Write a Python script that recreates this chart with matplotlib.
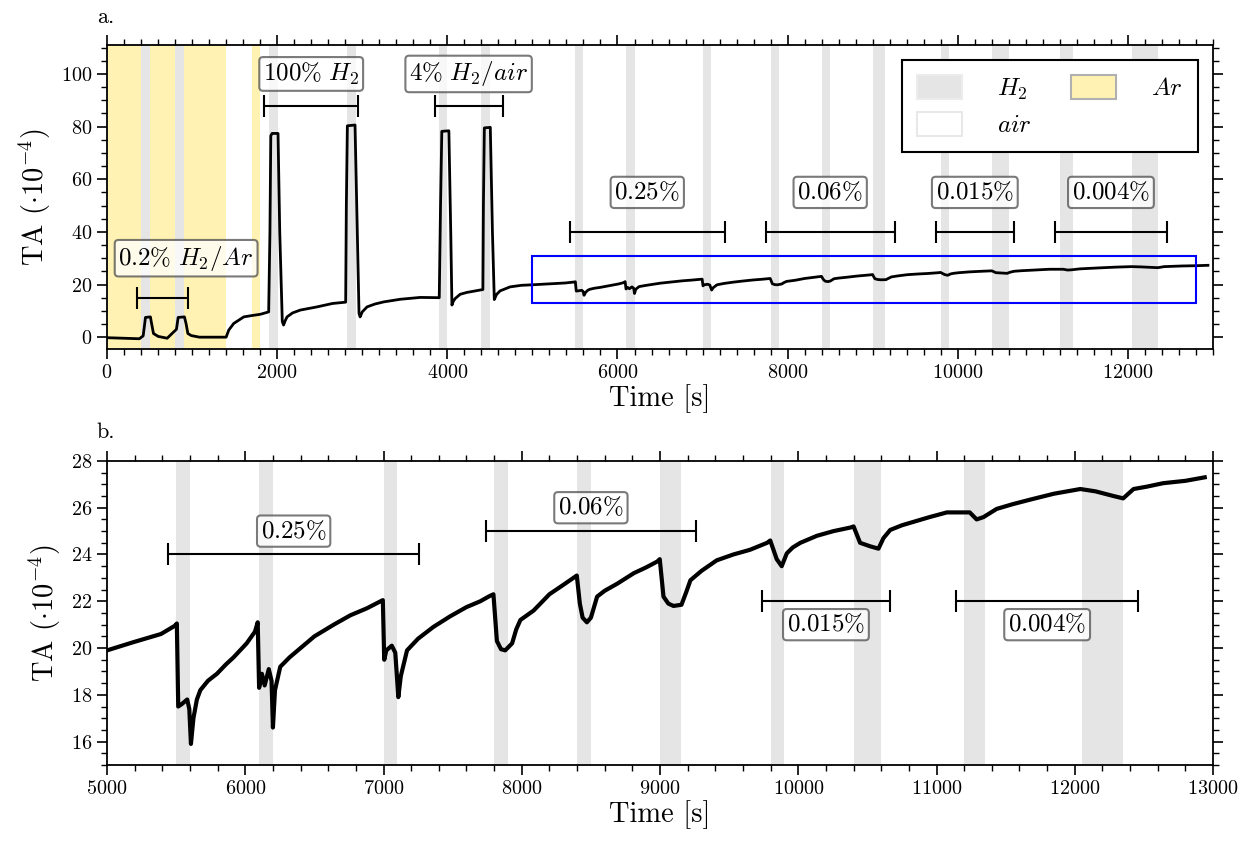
import numpy as np
import matplotlib
matplotlib.use('Agg')
import matplotlib.pyplot as plt
from matplotlib.patches import Patch, Rectangle
from matplotlib.ticker import MultipleLocator

plt.rcParams['font.family'] = 'serif'
plt.rcParams['font.serif'] = ['cmr10']
plt.rcParams['mathtext.fontset'] = 'cm'
plt.rcParams['axes.formatter.use_mathtext'] = True
plt.rcParams['axes.unicode_minus'] = False

time_s = [0, 200, 380, 425, 452, 510, 519, 546, 600, 707, 816, 836, 910, 930, 950, 990, 1087,
          1400, 1431, 1489, 1607, 1700, 1803, 1900, 1915, 1925, 1940, 2010, 2030, 2060, 2075,
          2095, 2116, 2180, 2272, 2468, 2650, 2805, 2813, 2825, 2915, 2935, 2962, 2975, 3000,
          3056, 3150, 3252, 3447, 3682, 3905, 3920, 3935, 4018, 4040, 4054, 4070, 4093, 4151,
          4230, 4418, 4424, 4435, 4505, 4530, 4552, 4580, 4621, 4737, 4870,
          5000, 5190, 5390, 5490, 5505, 5515, 5540, 5580, 5595, 5607, 5625, 5650, 5675, 5730,
          5795, 5860, 5915, 6010, 6070, 6090, 6100, 6120, 6140, 6170, 6190, 6200, 6215, 6253,
          6320, 6400, 6500, 6640, 6760, 6880, 6995, 7005, 7020, 7060, 7085, 7107, 7125, 7170,
          7250, 7360, 7480, 7600, 7700, 7760, 7795, 7820, 7850, 7880, 7930, 7960, 7990, 8085,
          8200, 8300, 8398, 8420, 8440, 8471, 8500, 8545, 8600, 8690, 8810, 8900, 8980, 8998,
          9025, 9060, 9097, 9155, 9190, 9220, 9300, 9410, 9530, 9650, 9775, 9797, 9844, 9880,
          9917, 9960, 10015, 10135, 10255, 10375, 10400, 10447, 10520, 10580, 10616, 10665,
          10750, 10835, 10950, 11075, 11240, 11290, 11340, 11435, 11550, 11680, 11850, 12040,
          12150, 12280, 12350, 12425, 12520, 12640, 12800, 12940]
ta = [-0.2, -0.4, -0.6, 0.5, 7.5, 7.7, 6.0, 1.4, 0.3, -0.4, 3.0, 7.5, 7.7, 5.0, 1.4, 0.6, 0.0,
      0.0, 2.7, 5.2, 7.7, 8.2, 8.7, 9.6, 40.0, 76.5, 77.4, 77.4, 40.0, 6.0, 4.6,
      6.3, 7.7, 9.2, 10.3, 11.5, 12.8, 13.3, 50.0, 80.3, 80.6, 50.0, 9.0, 7.7, 9.6,
      11.5, 12.6, 13.4, 14.4, 15.1, 15.0, 50.0, 78.2, 78.4, 40.0, 12.2, 13.6, 14.7, 16.3,
      17.0, 18.1, 50.0, 79.5, 79.7, 40.0, 14.3, 16.3, 17.6, 19.1, 19.7,
      19.9, 20.25, 20.6, 20.95, 21.05, 17.5, 17.6, 17.8, 17.4, 15.9, 17.0, 17.8, 18.2, 18.6,
      18.9, 19.3, 19.6, 20.2, 20.7, 21.1, 18.3, 18.9, 18.4, 19.1, 18.6, 16.6, 18.2, 19.2,
      19.6, 20.0, 20.5, 21.0, 21.4, 21.7, 22.05, 19.5, 19.9, 20.1, 19.8, 17.9, 18.8, 19.9,
      20.4, 20.9, 21.35, 21.75, 22.0, 22.2, 22.3, 20.3, 19.95, 19.9, 20.2, 20.8, 21.2, 21.6,
      22.3, 22.7, 23.1, 21.9, 21.3, 21.1, 21.3, 22.2, 22.45, 22.75, 23.2, 23.45, 23.7, 23.8,
      22.2, 21.9, 21.8, 21.85, 22.4, 22.9, 23.3, 23.75, 24.0, 24.2, 24.5, 24.6, 23.8, 23.5,
      24.05, 24.3, 24.5, 24.8, 25.0, 25.15, 25.2, 24.5, 24.35, 24.25, 24.7, 25.05,
      25.25, 25.4, 25.6, 25.8, 25.8, 25.5, 25.6, 25.95, 26.15, 26.35, 26.6, 26.8,
      26.7, 26.5, 26.4, 26.8, 26.9, 27.05, 27.15, 27.3]

# gas exposure windows (s)
h2_start = [400, 800, 1900, 2815, 3900, 4400, 5500, 6100, 7000, 7800, 8400, 9000, 9800, 10400, 11200, 12050]
h2_end = [500, 900, 2010, 2925, 4000, 4500, 5600, 6200, 7100, 7900, 8500, 9150, 9900, 10600, 11350, 12350]
ar_start = [0, 1700]
ar_end = [1400, 1800]

# concentration brackets: label, start, end
conc_top = ['$0.2\\%\\ H_2/Ar$', '$100\\%\\ H_2$', '$4\\%\\ H_2/air$',
            '$0.25\\%$', '$0.06\\%$', '$0.015\\%$', '$0.004\\%$']
conc_top_start = [350, 1850, 3850, 5440, 7740, 9740, 11140]
conc_top_end = [950, 2950, 4650, 7260, 9260, 10660, 12460]
conc_top_y = [15, 88, 88, 40, 40, 40, 40]
conc_top_label_x = [930, 2400, 4250, 6350, 8500, 10200, 11800]
conc_top_label_y = [30, 100, 100, 55, 55, 55, 55]

conc_bot = ['$0.25\\%$', '$0.06\\%$', '$0.015\\%$', '$0.004\\%$']
conc_bot_start = [5440, 7740, 9740, 11140]
conc_bot_end = [7260, 9260, 10660, 12460]
conc_bot_y = [24, 25, 22, 22]
conc_bot_label_y = [25, 26, 21, 21]

gray = '#e5e5e5'
yellow = '#fff2b3'

fig = plt.figure(figsize=(12.43, 8.41), dpi=100)
ax1 = fig.add_axes([0.0861, 0.585, 0.8898, 0.3615])
ax2 = fig.add_axes([0.0861, 0.0904, 0.8898, 0.3615])


def shade(ax, xmin, xmax):
    for s, e in zip(ar_start, ar_end):
        ax.axvspan(s, e, color=yellow, lw=0, zorder=0)
    for s, e in zip(h2_start, h2_end):
        if e > xmin and s < xmax:
            ax.axvspan(s, e, color=gray, lw=0, zorder=1)


def brackets(ax, labels, starts, ends, ys, lx, ly):
    box = dict(boxstyle='round,pad=0.15', fc='white', ec='0.3', lw=1.5, alpha=0.75)
    for lab, s, e, y, x, yl in zip(labels, starts, ends, ys, lx, ly):
        ax.errorbar((s + e) / 2, y, xerr=(e - s) / 2, fmt='none', ecolor='k',
                    elinewidth=1.5, capsize=8, capthick=1.5, zorder=4)
        ax.text(x, yl, lab, ha='center', va='center', fontsize=18, bbox=box, zorder=5)


def style(ax):
    ax.tick_params(which='both', direction='out', top=True, right=True, labelsize=14.5)
    ax.tick_params(which='major', length=7, width=1.2)
    ax.tick_params(which='minor', length=4, width=1.0)
    for sp in ax.spines.values():
        sp.set_linewidth(1.3)
    ax.set_xlabel('Time [s]', fontsize=20.5, labelpad=2)
    ax.set_ylabel('TA $(\\cdot 10^{-4})$', fontsize=20.5, labelpad=6)


# panel a
shade(ax1, 0, 13000)
ax1.plot(time_s, ta, color='k', lw=2.0, zorder=3)
brackets(ax1, conc_top, conc_top_start, conc_top_end, conc_top_y, conc_top_label_x, conc_top_label_y)
ax1.add_patch(Rectangle((5000, 13), 7800, 18, fill=False, ec='blue', lw=1.5, zorder=4))
ax1.set_xlim(0, 13000)
ax1.set_ylim(-4.5, 111)
ax1.xaxis.set_major_locator(MultipleLocator(2000))
ax1.xaxis.set_minor_locator(MultipleLocator(200))
ax1.yaxis.set_major_locator(MultipleLocator(20))
ax1.yaxis.set_minor_locator(MultipleLocator(5))
style(ax1)

handles = [Patch(fc=gray, ec='#ececec', lw=1.5, label='$H_2$'),
           Patch(fc='white', ec='#e8e8e8', lw=1.5, label='$air$'),
           Patch(fc=yellow, ec='#b0b0b0', lw=1.5, label='$Ar$')]
leg = ax1.legend(handles=handles, loc='upper right', ncol=2, fontsize=18, fancybox=False,
                 framealpha=1, edgecolor='k', handlelength=1.8, handleheight=1.1,
                 borderpad=0.6, labelspacing=0.4, columnspacing=1.6, handletextpad=1.4,
                 borderaxespad=0.6)
leg.get_frame().set_linewidth(1.5)
leg.set_zorder(6)

# panel b
shade(ax2, 5000, 13000)
ax2.plot(time_s, ta, color='k', lw=3.0, zorder=3)
mid_bot = [(s + e) / 2 for s, e in zip(conc_bot_start, conc_bot_end)]
brackets(ax2, conc_bot, conc_bot_start, conc_bot_end, conc_bot_y, mid_bot, conc_bot_label_y)
ax2.set_xlim(5000, 13000)
ax2.set_ylim(15, 28)
ax2.xaxis.set_major_locator(MultipleLocator(1000))
ax2.xaxis.set_minor_locator(MultipleLocator(200))
ax2.yaxis.set_major_locator(MultipleLocator(2))
ax2.yaxis.set_minor_locator(MultipleLocator(0.5))
style(ax2)

fig.text(0.078, 0.979, 'a.', fontsize=16, va='center')
fig.text(0.078, 0.486, 'b.', fontsize=16, va='center')

fig.savefig('out.png', dpi=100)
